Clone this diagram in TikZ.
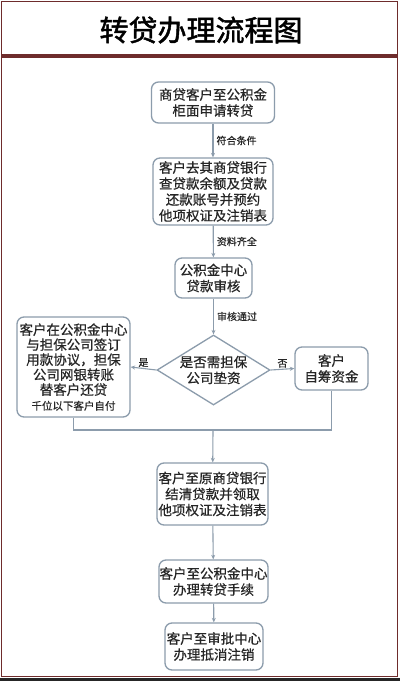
\documentclass[tikz,border=0pt]{standalone}
\usepackage{fontspec}
\setmainfont{Noto Sans CJK SC}
\newfontfamily\cjk[FakeBold=0.6]{Noto Sans CJK SC}
\newfontfamily\cjkt[FakeBold=1.6]{Noto Sans CJK SC}
\newfontfamily\cjkl[FakeBold=0.4]{Noto Sans CJK SC}
\usetikzlibrary{shapes.geometric,arrows.meta}
\definecolor{frameC}{HTML}{6E2C2C}
\definecolor{boxC}{HTML}{8C9CAC}
\definecolor{txtC}{HTML}{262626}
\tikzset{
  frame/.style={draw=frameC,line width=1.3pt},
  box/.style={draw=boxC,line width=1.3pt,rounded corners=7pt,align=center,inner sep=0pt,
    text=txtC,font=\cjk\fontsize{13.5}{16}\selectfont},
  dia/.style={draw=boxC,line width=1.3pt,diamond,inner sep=0pt},
  diatxt/.style={align=center,text=txtC,font=\cjk\fontsize{13.5}{16}\selectfont},
  arr/.style={draw=boxC,line width=1.1pt,-{Stealth[length=4.5pt,width=4pt]}},
  ln/.style={draw=boxC,line width=1.1pt},
  lbl/.style={text=txtC,font=\cjkl\fontsize{10}{12}\selectfont,inner sep=1pt}
}
\begin{document}
\begin{tikzpicture}[x=1pt,y=-1pt]
\useasboundingbox (0,0) rectangle (400,681);
\fill[white] (0,0) rectangle (400,681);
\fill[black!85] (0,677.5) rectangle (400,681);
\draw[frame] (1.5,1.5) rectangle (397.5,55);
\draw[frame] (1.5,57) rectangle (397.5,676.5);
\node[text=black,font=\cjkt\fontsize{29}{32}\selectfont] (title) at (201,30) {转贷办理流程图};

\node[box,minimum width=123,minimum height=41] (b1) at (213,102.5) {商贷客户至公积金\\柜面申请转贷};
\node[box,minimum width=120,minimum height=67] (b2) at (213,191.5) {客户去其商贷银行\\查贷款余额及贷款\\还款账号并预约\\他项权证及注销表};
\node[box,minimum width=77,minimum height=40] (b3) at (213.5,278) {公积金中心\\贷款审核};
\node[dia,minimum width=113,minimum height=70] (d) at (213.5,370) {};
\node[diatxt] (dt) at (d.center) {是否需担保\\公司垫资};
\node[box,minimum width=113,minimum height=100,font=\cjk\fontsize{13.5}{15}\selectfont] (L) at (73.5,367)
  {客户在公积金中心\\与担保公司签订\\用款协议，担保\\公司网银转账\\替客户还贷\\{\fontsize{10.5}{15}\selectfont 千位以下客户自付}};
\node[box,minimum width=73,minimum height=43] (R) at (331.5,368.5) {客户\\自筹资金};
\node[box,minimum width=111,minimum height=62] (b4) at (212.5,494) {客户至原商贷银行\\结清贷款并领取\\他项权证及注销表};
\node[box,minimum width=109,minimum height=43] (b5) at (213.5,581.5) {客户至公积金中心\\办理转贷手续};
\node[box,minimum width=98,minimum height=47] (b6) at (214,646.5) {客户至审批中心\\办理抵消注销};
\coordinate (m) at (213,430);

\draw[arr] (b1) -- node[lbl,anchor=west,xshift=2pt] (l1) {符合条件} (b2);
\draw[arr] (b2) -- node[lbl,anchor=west,xshift=2pt] (l2) {资料齐全} (b3);
\draw[arr] (b3) -- node[lbl,anchor=west,xshift=2pt] (l3) {审核通过} (d);
\draw[arr] (d.west) -- node[lbl,above] (l4) {是} (L.east);
\draw[arr] (d.east) -- node[lbl,above] (l5) {否} (R.west);
\draw[ln] (L.south) |- (m);
\draw[ln] (R.south) |- (m);
\draw[arr] (m) -- (b4);
\draw[arr] (b4) -- (b5);
\draw[arr] (b5) -- (b6);
\end{tikzpicture}
\end{document}
